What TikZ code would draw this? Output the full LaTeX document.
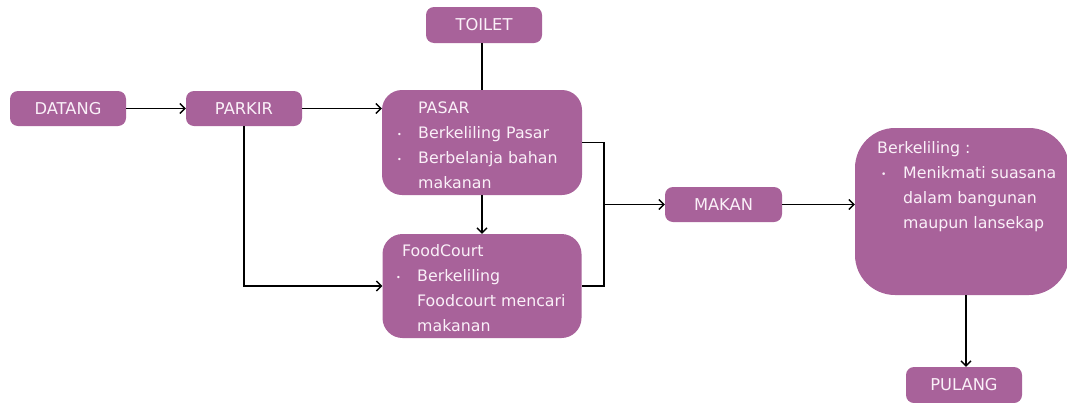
\documentclass[tikz,border=0pt]{standalone}
\usepackage{fontspec}
\setmainfont{DejaVu Sans}
\usetikzlibrary{arrows.meta}
\definecolor{boxfill}{RGB}{168,98,154}
\definecolor{boxtext}{RGB}{250,240,248}
\tikzset{
  x=1pt, y=-1pt,
  box/.style={draw=none, fill=boxfill, rounded corners=#1, inner sep=0pt},
  box/.default=8pt,
  label/.style={text=boxtext, font=\fontsize{16.3}{25}\selectfont},
  body/.style={text=boxtext, font=\fontsize{15.8}{25}\selectfont, align=left, anchor=north west, inner sep=0pt},
  link/.style={draw=black, line width=1.3pt},
  flow/.style={link, -{Straight Barb[length=5pt,width=10pt,line width=1.3pt]}}
}
\newcommand{\bul}{\makebox[21pt][l]{\raisebox{1pt}{\footnotesize•}}}
\newcommand{\ind}{\hspace*{21pt}}
\begin{document}
\begin{tikzpicture}
\useasboundingbox (0,0) rectangle (1067,402);

% single-label steps
\node[box, label, minimum width=116pt, minimum height=35pt] (datang) at (68,108.5) {DATANG};
\node[box, label, minimum width=116pt, minimum height=35pt] (parkir) at (244,108.5) {PARKIR};
\node[box, label, minimum width=116pt, minimum height=36pt] (toilet) at (484,25) {TOILET};
\node[box, label, minimum width=117pt, minimum height=35pt] (makan) at (723.5,204.5) {MAKAN};
\node[box, label, minimum width=116pt, minimum height=36pt] (pulang) at (964,385) {PULANG};

% activity boxes
\node[box=20pt, minimum width=200pt, minimum height=105pt] (pasar) at (482,142.5) {};
\node[body] (pasarTxt) at (397,102)
  {\ind PASAR\\ \bul Berkeliling Pasar\\ \bul Berbelanja bahan\\ \ind makanan};

\node[box=20pt, minimum width=199pt, minimum height=104pt] (food) at (482,286) {};
\node[body] (foodTxt) at (396,244)
  {\hspace*{6pt}FoodCourt\\ \bul Berkeliling\\ \ind Foodcourt mencari\\ \ind makanan};

\node[box=40pt, minimum width=214pt, minimum height=167pt] (berk) at (962,211.5) {};
\node[body] (berkTxt) at (877,141)
  {Berkeliling :\\ \hspace*{4pt}\makebox[22pt][l]{\raisebox{1pt}{\small•}}Menikmati suasana\\ \hspace*{26pt}dalam bangunan\\ \hspace*{26pt}maupun lansekap};

% connectors
\coordinate (j) at (604,204.5);
\draw[flow] (datang.east) -- (parkir.west);
\draw[flow] (parkir.east) -- (parkir.east -| pasar.west);
\draw[link] (pasar.north) -- (pasar.north |- toilet.south);
\draw[flow] (pasar.south) -- (food.north);
\draw[flow] (parkir.south) |- (food.west);
\draw[link] (pasar.east) -| (j) |- (food.east);
\draw[flow] (j) -- (makan.west);
\draw[flow] (makan.east) -- (makan.east -| berk.west);
\draw[flow] (berk.south -| 966,0) -- (pulang.north -| 966,0);
\end{tikzpicture}
\end{document}
